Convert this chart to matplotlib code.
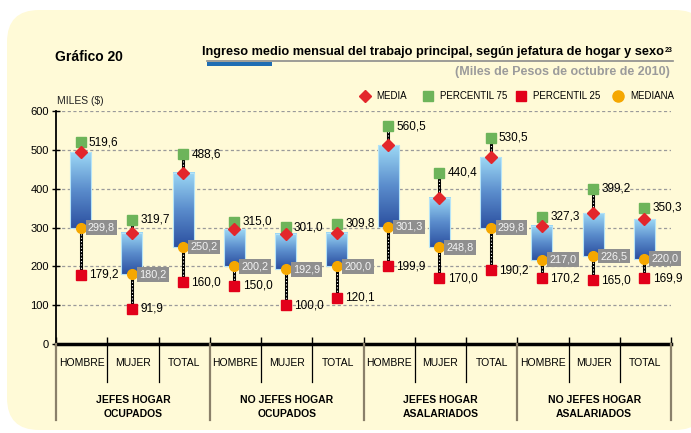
import numpy as np
import matplotlib
matplotlib.use('Agg')
import matplotlib.pyplot as plt
from matplotlib.colors import LinearSegmentedColormap
from matplotlib.patches import FancyBboxPatch, Rectangle
from matplotlib.lines import Line2D
from matplotlib import transforms

# Datos (miles de pesos de octubre de 2010)
subcategorias = ['HOMBRE', 'MUJER', 'TOTAL'] * 4
grupos = ['JEFES HOGAR\nOCUPADOS', 'NO JEFES HOGAR\nOCUPADOS',
          'JEFES HOGAR\nASALARIADOS', 'NO JEFES HOGAR\nASALARIADOS']
percentil_75 = [519.6, 319.7, 488.6, 315.0, 301.0, 309.8, 560.5, 440.4, 530.5, 327.3, 399.2, 350.3]
percentil_25 = [179.2, 91.9, 160.0, 150.0, 100.0, 120.1, 199.9, 170.0, 190.2, 170.2, 165.0, 169.9]
mediana = [299.8, 180.2, 250.2, 200.2, 192.9, 200.0, 301.3, 248.8, 299.8, 217.0, 226.5, 220.0]
media = [495, 287, 441, 295, 283, 287, 511, 375, 481, 305, 336, 322]

plt.rcParams['font.family'] = ['Liberation Sans', 'DejaVu Sans']

W, H = 691, 433
fig = plt.figure(figsize=(W / 100, H / 100), dpi=100)

# capa de fondo en pixeles
bg = fig.add_axes([0, 0, 1, 1])
bg.set_xlim(0, W)
bg.set_ylim(H, 0)
bg.axis('off')
bg.add_patch(FancyBboxPatch((7, 10), 700, 420, boxstyle='round,pad=0,rounding_size=32',
                            fc='#fffad7', ec='none'))

bg.text(55, 57, 'Gráfico 20', fontsize=10, fontweight='bold', ha='left', va='center')
titulo = bg.text(664, 52, 'Ingreso medio mensual del trabajo principal, según jefatura de hogar y sexo',
                 fontsize=9.2, fontweight='bold', ha='right', va='center')
bg.annotate('23', xy=(1, 1), xycoords=titulo, xytext=(0.3, -0.5), textcoords='offset points',
            fontsize=5, fontweight='bold', ha='left', va='top')
bg.plot([207, 673], [61, 61], color='#8c8c8c', lw=1.2)
bg.add_patch(Rectangle((207, 62), 65, 4, fc='#1f6db3', ec='none'))
bg.text(670, 72, '(Miles de Pesos de octubre de 2010)', color='#9b9b9b', fontsize=9,
        fontweight='bold', ha='right', va='center')

# leyenda
bg.plot(365, 96, marker='D', color='#e3262b', ms=6)
bg.text(376, 96, 'MEDIA', fontsize=7, va='center')
bg.plot(428, 96, marker='s', color='#6db45a', ms=6.5)
bg.text(440, 96, 'PERCENTIL 75', fontsize=7, va='center')
bg.plot(521, 96, marker='s', color='#e2001a', ms=6.5)
bg.text(533, 96, 'PERCENTIL 25', fontsize=7, va='center')
bg.plot(618, 96, marker='o', color='#f5a700', ms=8)
bg.text(630, 96, 'MEDIANA', fontsize=7, va='center')
bg.text(57, 101, 'MILES ($)', fontsize=7.5, va='center', color='#222222')

# ejes principales
ax = fig.add_axes([56 / W, 1 - 344.3 / H, 615 / W, (344.3 - 110.7) / H])
ax.patch.set_alpha(0)
for s in ['top', 'right']:
    ax.spines[s].set_visible(False)
ax.spines['left'].set_linewidth(1.3)
ax.spines['bottom'].set_linewidth(2.5)
ax.set_yticks(range(0, 700, 100))
ax.tick_params(axis='y', direction='inout', length=6, width=1, labelsize=8, pad=2)
ax.set_xticks(range(13))
ax.set_xticklabels([])
ax.tick_params(axis='x', direction='in', length=5, width=1)
for v in range(100, 700, 100):
    ax.axhline(v, color='#9a9a9a', lw=0.9, ls=(0, (2.5, 2)), zorder=0)

azul = LinearSegmentedColormap.from_list('azul', ['#2c50a0', '#5a8ccc', '#9cd8f5'])
grad = np.linspace(0, 1, 100).reshape(-1, 1)


def fmt(v):
    return f'{v:.1f}'.replace('.', ',')


ancho = 0.41
for i in range(len(subcategorias)):
    x = i + 0.5 - 0.02
    # linea punteada percentil 25 -> percentil 75
    ax.plot([x, x], [percentil_25[i], percentil_75[i]], color='black', lw=2.2,
            solid_capstyle='butt', zorder=2)
    ax.plot([x, x], [percentil_25[i], percentil_75[i]], color='white', lw=0.8,
            ls=(0, (1, 2)), zorder=2.1)
    # barra mediana -> media con degradado
    ax.imshow(grad, extent=(x - ancho / 2, x + ancho / 2, mediana[i], media[i]),
              cmap=azul, aspect='auto', origin='lower', zorder=3)
    ax.add_patch(Rectangle((x - ancho / 2, mediana[i]), ancho, media[i] - mediana[i],
                           fill=False, ec='#b5e3f7', lw=0.8, zorder=3.1))
    ax.plot(x, percentil_75[i], marker='s', color='#6db45a', ms=6.5, zorder=5)
    ax.plot(x, percentil_25[i], marker='s', color='#e2001a', ms=7, zorder=5)
    ax.plot(x, media[i], marker='D', color='#e3262b', ms=6.5, zorder=5)
    ax.plot(x, mediana[i], marker='o', color='#f5a700', ms=7, zorder=5)
    ax.annotate(fmt(percentil_75[i]), (x, percentil_75[i]), xytext=(6, 0),
                textcoords='offset points', ha='left', va='center', fontsize=8.5, zorder=6)
    ax.annotate(fmt(percentil_25[i]), (x, percentil_25[i]), xytext=(6, 0),
                textcoords='offset points', ha='left', va='center', fontsize=8.5, zorder=6)
    ax.annotate(fmt(mediana[i]), (x, mediana[i]), xytext=(5.3, 0),
                textcoords='offset points', ha='left', va='center', fontsize=7.8,
                color='#f4f4f4', zorder=6,
                bbox=dict(boxstyle='square,pad=0.22', fc='#8f8f8f', ec='none'))

ax.set_xlim(0, 12)
ax.set_ylim(0, 600)

# etiquetas del eje x y divisiones
trans = transforms.blended_transform_factory(ax.transData, bg.transData)
for k in range(13):
    if k % 3 == 0:
        fig.add_artist(Line2D([k, k], [344, 420], color='#8a806a', lw=1.6, transform=trans))
    else:
        fig.add_artist(Line2D([k, k], [344, 382], color='black', lw=0.9, transform=trans))
for i, s in enumerate(subcategorias):
    bg.text(i + 0.5, 363, s, transform=trans, ha='center', va='center', fontsize=7.5)
for g, s in enumerate(grupos):
    bg.text(g * 3 + 1.5, 407, s, transform=trans, ha='center', va='center',
            fontsize=7.5, fontweight='bold', linespacing=1.4)

fig.savefig('out.png', dpi=100)
